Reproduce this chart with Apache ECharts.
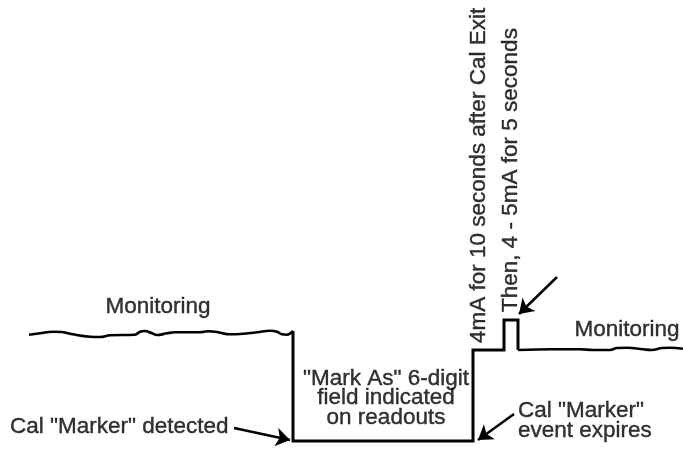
<!DOCTYPE html>
<html>
<head>
<meta charset="utf-8">
<script src="https://cdn.jsdelivr.net/npm/echarts@6/dist/echarts.min.js"></script>
<style>
  html, body { margin: 0; padding: 0; background: #fff; }
  #chart { width: 683px; height: 453px; }
</style>
</head>
<body>
<div id="chart"></div>
<script>
// trace points, in picture coordinates (y grows downward)
const leftWave = [
  [29, 334.7], [40, 333.3], [53, 331.7], [62, 332], [73, 334.3], [90, 336.7],
  [100, 337], [110, 335.3], [135, 334.7], [140, 331.7], [145, 331], [152, 333.3],
  [157, 335], [167, 333.3], [175, 332.3], [200, 332.3], [208, 331.3], [217, 332],
  [230, 334.3], [240, 334], [257, 332.3], [270, 330.7], [277, 331.7], [282, 334.3],
  [287, 334.7], [293, 331]
];
const calStep = [
  [293, 331], [293, 441], [473, 441], [473, 350], [504, 350],
  [504, 320], [518, 320], [518, 350]
];
const rightWave = [
  [518, 350], [553, 349.3], [580, 349.3], [593, 350], [610, 350], [617, 348],
  [627, 347.7], [643, 349.3], [652, 350], [662, 348], [670, 347.7], [683, 348.7]
];

// arrows: [from, to]
const arrows = [
  [[234, 428], [290, 440]],
  [[514, 414], [478, 440]],
  [[557, 277], [519, 314]]
];

// labels: [text, x, y]
const centerLabels = [
  ['Monitoring', 158, 307],
  ['Monitoring', 627, 330],
  ['"Mark As" 6-digit\nfield indicated\non readouts', 386, 398]
];
const leftLabels = [
  ['Cal "Marker" detected', 10, 427],
  ['Cal "Marker"\nevent expires', 518, 421]
];
const verticalLabels = [
  ['4mA for 10 seconds after Cal Exit', 479, 343],
  ['Then, 4 - 5mA for 5 seconds', 510.5, 312]
];

const font = {
  fontFamily: 'Liberation Sans, Arial, sans-serif',
  fontSize: 22.5,
  color: '#000',
  lineHeight: 19.5,
  textBorderColor: '#000',
  textBorderWidth: 0.4
};

function labelSeries(list, label) {
  return {
    type: 'scatter',
    symbolSize: 0,
    silent: true,
    data: list.map(d => ({ name: d[0], value: [d[1], d[2]] })),
    label: Object.assign({ show: true, formatter: '{b}', position: 'inside' }, font, label)
  };
}

const traceStyle = { color: '#000', width: 3, join: 'miter', cap: 'butt' };

const option = {
  animation: false,
  grid: { left: 0, right: 0, top: 0, bottom: 0 },
  xAxis: {
    type: 'value', min: 0, max: 683,
    show: false
  },
  yAxis: {
    type: 'value', min: 0, max: 453, inverse: true,
    show: false
  },
  series: [
    {
      type: 'line',
      data: leftWave,
      smooth: 0.4,
      symbol: 'none',
      lineStyle: { color: '#000', width: 2.6 }
    },
    {
      type: 'line',
      data: calStep,
      symbol: 'none',
      lineStyle: traceStyle
    },
    {
      type: 'line',
      data: rightWave,
      smooth: 0.4,
      symbol: 'none',
      lineStyle: { color: '#000', width: 2.6 }
    },
    {
      type: 'lines',
      coordinateSystem: 'cartesian2d',
      silent: true,
      symbol: ['none', 'arrow'],
      symbolSize: [0, 14],
      lineStyle: { color: '#000', width: 2.5, opacity: 1 },
      data: arrows.map(a => ({ coords: a }))
    },
    labelSeries(centerLabels, { align: 'center', verticalAlign: 'middle' }),
    labelSeries(leftLabels, { align: 'left', verticalAlign: 'middle' }),
    labelSeries(verticalLabels, { align: 'left', verticalAlign: 'middle', rotate: 90 })
  ]
};

const myChart = echarts.init(document.getElementById('chart'));
myChart.setOption(option);
</script>
</body>
</html>
